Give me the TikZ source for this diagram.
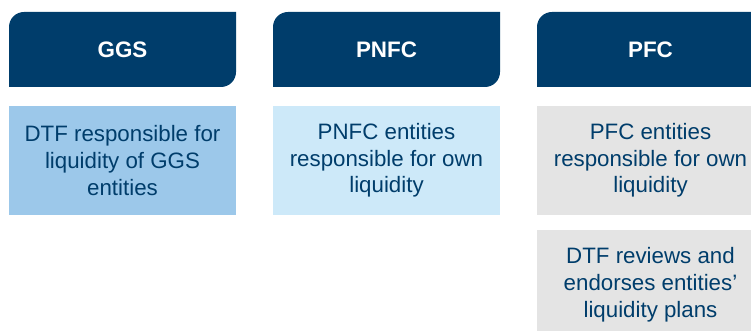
\documentclass[tikz,border=0pt]{standalone}
\usepackage{fontspec}
\setmainfont{Liberation Sans}
\usepackage{xcolor}
\usetikzlibrary{positioning}

\definecolor{navy}{RGB}{0,61,107}
\definecolor{ggsblue}{RGB}{156,200,234}
\definecolor{pnfcblue}{RGB}{205,233,249}
\definecolor{pfcgrey}{RGB}{228,228,228}

\begin{document}
\begin{tikzpicture}[
    x=1pt, y=1pt,
    head/.style={text=white, font=\fontsize{22.4}{26}\selectfont\bfseries},
    box/.style={rectangle, minimum width=227pt, minimum height=109pt, inner sep=0pt, align=center, text=navy, font=\fontsize{22.3}{26.7}\selectfont},
]
    \useasboundingbox (0,0) rectangle (751,331);
    \clip (0,0) rectangle (751,331);

    % header tabs, rounded top-left and bottom-right
    \foreach \x/\name/\txt in {9/ggs/GGS, 273/pnfc/PNFC, 537/pfc/PFC} {
        \fill[navy] (\x,244) -- (\x,304) arc[start angle=180, end angle=90, radius=15]
            -- (\x+227,319) -- (\x+227,259) arc[start angle=0, end angle=-90, radius=15] -- cycle;
        \node[head] (\name) at (\x+113.5,281.5) {\txt};
    }

    \node[box, fill=ggsblue] (ggsbox) at (122.5,170.5) {DTF responsible for\\liquidity of GGS\\entities};
    \node[box, fill=pnfcblue] (pnfcbox) at (386.5,170.5) {PNFC entities\\responsible for own\\liquidity};
    \node[box, fill=pfcgrey] (pfcbox) at (650.5,170.5) {PFC entities\\responsible for own\\liquidity};
    \node[box, fill=pfcgrey, below=15pt of pfcbox] (plans) {DTF reviews and\\endorses entities’\\liquidity plans};
\end{tikzpicture}
\end{document}
